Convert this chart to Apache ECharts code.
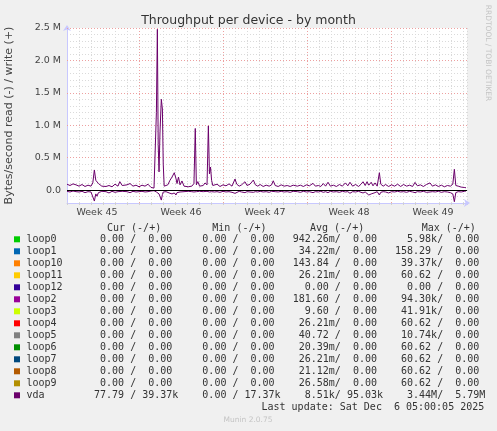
<!DOCTYPE html>
<html><head><meta charset="utf-8">
<script src="https://cdn.jsdelivr.net/npm/echarts@6/dist/echarts.min.js"></script>
<style>html,body{margin:0;padding:0;background:#f0f0f0}#c{width:497px;height:431px}</style>
</head><body><div id="c"></div>
<script>
// time in days from the left edge of the plot
const days = [
0.00,0.25,0.50,0.62,0.75,1.00,1.25,1.50,1.75,2.00,
2.15,2.28,2.40,2.50,2.62,2.75,2.90,3.00,3.25,3.50,
3.75,4.00,4.25,4.40,4.60,4.75,5.00,5.25,5.50,5.75,
6.00,6.25,6.50,6.75,7.00,7.12,7.25,7.38,7.45,7.53,
7.60,7.67,7.75,7.86,7.95,8.02,8.10,8.25,8.40,8.58,
8.75,8.94,9.08,9.17,9.29,9.42,9.58,9.75,9.90,10.10,
10.25,10.40,10.58,10.69,10.78,10.90,11.05,11.20,11.35,11.50,
11.67,11.78,11.87,11.96,12.05,12.15,12.30,12.50,12.75,13.00,
13.25,13.50,13.75,14.00,14.15,14.35,14.55,14.70,14.83,15.00,
15.25,15.40,15.53,15.70,15.90,16.10,16.35,16.60,16.85,17.05,
17.19,17.35,17.60,17.85,18.10,18.35,18.60,18.85,19.00,19.20,
19.45,19.70,19.95,20.20,20.50,20.70,20.95,21.15,21.36,21.55,
21.75,21.95,22.20,22.45,22.70,22.95,23.20,23.40,23.58,23.80,
24.05,24.30,24.50,24.67,24.85,25.00,25.15,25.35,25.50,25.67,
25.85,26.03,26.15,26.35,26.55,26.80,27.05,27.30,27.55,27.80,
28.05,28.30,28.55,28.80,29.00,29.20,29.45,29.70,29.95,30.25,
30.45,30.70,30.95,31.20,31.45,31.70,31.95,32.15,32.28,32.40,
32.60,32.85,33.10,33.25
];
// vda write (+), in k bytes/s
const writeK = [
90,70,95,125,80,60,85,55,75,60,
110,310,150,180,100,125,60,80,55,70,
50,90,60,130,70,55,80,100,60,75,
50,75,60,90,40,35,30,60,1200,2480,
700,280,900,1400,1250,400,60,50,80,150,
200,267,180,100,200,80,140,60,90,50,
75,60,100,950,80,130,60,90,70,110,
80,990,250,355,150,70,60,90,55,80,
65,95,60,170,90,60,80,55,128,70,
90,60,154,80,60,85,55,75,60,80,
143,70,55,80,60,70,55,75,103,60,
75,55,80,65,103,60,70,55,100,60,
120,60,75,55,85,60,110,65,120,60,
85,55,90,128,70,128,75,120,65,110,
60,267,90,60,85,55,80,60,90,55,
85,60,75,55,118,65,80,55,85,110,
60,80,55,75,50,70,60,90,320,70,
60,45,40,35
];
// vda read (-), in k bytes/s (drawn below zero)
const readK = [
20,30,15,35,25,30,20,40,25,30,
60,170,60,95,40,35,20,30,25,45,
20,35,25,40,20,30,25,40,20,30,
25,20,30,25,15,10,10,20,30,50,
40,60,90,155,70,30,20,25,35,50,
60,45,77,40,55,30,40,25,30,20,
35,25,30,40,25,35,20,30,25,35,
20,45,30,40,25,20,30,25,35,20,
30,25,35,51,30,20,30,25,40,25,
30,20,35,25,30,20,30,25,35,20,
40,25,30,20,30,25,35,20,30,25,
35,20,30,25,40,25,30,20,35,25,
40,20,30,25,35,20,30,25,50,25,
30,20,35,45,30,51,77,60,30,40,
25,77,35,25,30,45,25,30,20,30,
25,35,20,30,40,25,30,20,35,30,
25,30,20,35,25,30,40,60,180,40,
25,30,20,15
];
const weekLabels = ['Week 45','Week 46','Week 47','Week 48','Week 49'];
const weekCenters = [2.5, 9.5, 16.5, 23.5, 30.5];
const weekBounds = [6, 13, 20, 27];
const yMajorTicks = [0, 500, 1000, 1500, 2000, 2500];

const legendNames = ['loop0','loop1','loop10','loop11','loop12','loop2','loop3','loop4','loop5','loop6','loop7','loop8','loop9','vda'];
const legendCur = ['  0.00 /  0.00 ','  0.00 /  0.00 ','  0.00 /  0.00 ','  0.00 /  0.00 ','  0.00 /  0.00 ','  0.00 /  0.00 ','  0.00 /  0.00 ','  0.00 /  0.00 ','  0.00 /  0.00 ','  0.00 /  0.00 ','  0.00 /  0.00 ','  0.00 /  0.00 ','  0.00 /  0.00 ',' 77.79 / 39.37k'];
const legendMin = ['  0.00 /  0.00 ','  0.00 /  0.00 ','  0.00 /  0.00 ','  0.00 /  0.00 ','  0.00 /  0.00 ','  0.00 /  0.00 ','  0.00 /  0.00 ','  0.00 /  0.00 ','  0.00 /  0.00 ','  0.00 /  0.00 ','  0.00 /  0.00 ','  0.00 /  0.00 ','  0.00 /  0.00 ','  0.00 / 17.37k'];
const legendAvg = ['942.26m/  0.00 ',' 34.22m/  0.00 ','143.84 /  0.00 ',' 26.21m/  0.00 ','  0.00 /  0.00 ','181.60 /  0.00 ','  9.60 /  0.00 ',' 26.21m/  0.00 ',' 40.72 /  0.00 ',' 20.39m/  0.00 ',' 26.21m/  0.00 ',' 21.12m/  0.00 ',' 26.58m/  0.00 ','  8.51k/ 95.03k'];
const legendMax = ['  5.98k/  0.00 ','158.29 /  0.00 ',' 39.37k/  0.00 ',' 60.62 /  0.00 ','  0.00 /  0.00 ',' 94.30k/  0.00 ',' 41.91k/  0.00 ',' 60.62 /  0.00 ',' 10.74k/  0.00 ',' 60.62 /  0.00 ',' 60.62 /  0.00 ',' 60.62 /  0.00 ',' 60.62 /  0.00 ','  3.44M/  5.79M'];
const legendHeaders = ['Cur (-/+)','Min (-/+)','Avg (-/+)','Max (-/+)'];
const lastUpdate = 'Last update: Sat Dec  6 05:00:05 2025';

// styles
const palette = ['#00CC00','#0066B3','#FF8000','#FFCC00','#330099','#990099','#CCFF00','#FF0000','#808080','#008F00','#00487D','#B35A00','#B38F00','#6B006B'];
const MONO = '10px "DejaVu Sans Mono"';
const TXT = '#333';

const chart = echarts.init(document.getElementById('c'), null, {renderer:'canvas'});

const graphics = [];
const rowY0 = 239.3, rowH = 12;
const headerX = [107, 212.3, 310, 421.7];
legendHeaders.forEach((h,i)=>graphics.push({type:'text', x:headerX[i], y:228.3, style:{text:h, font:MONO, fill:TXT, textVerticalAlign:'middle'}}));
const colX = [88, 190.3, 292.7, 395];
legendNames.forEach((n,i)=>{
  const y = rowY0 + i*rowH;
  graphics.push({type:'rect', shape:{x:14, y:y-3, width:6, height:6}, style:{fill:palette[i]}});
  graphics.push({type:'text', x:26.5, y:y, style:{text:n, font:MONO, fill:TXT, textVerticalAlign:'middle'}});
  [legendCur[i], legendMin[i], legendAvg[i], legendMax[i]].forEach((s,j)=>{
    graphics.push({type:'text', x:colX[j], y:y, style:{text:s, font:MONO, fill:TXT, textVerticalAlign:'middle'}});
  });
});
graphics.push({type:'text', x:261.5, y:407.3, style:{text:lastUpdate, font:MONO, fill:TXT, textVerticalAlign:'middle'}});
graphics.push({type:'text', x:248, y:420.5, style:{text:'Munin 2.0.75', font:'7.5px "DejaVu Sans"', fill:'#c4c4c4', textAlign:'center', textVerticalAlign:'middle'}});
graphics.push({type:'text', x:487.5, y:53, rotation:-Math.PI/2, style:{text:'RRDTOOL / TOBI OETIKER', font:'7.5px "DejaVu Sans"', fill:'#c4c4c4', textAlign:'center', textVerticalAlign:'middle'}});

const axisCol = '#c8c8ff';
const option = {
  backgroundColor:'#f0f0f0',
  animation:false,
  title:{text:'Throughput per device - by month', left:'center', top:9,
    textStyle:{fontSize:12.5, fontWeight:'normal', color:TXT, fontFamily:'DejaVu Sans'}},
  grid:{left:67, right:30, top:28, bottom:228, show:true, backgroundColor:'#ffffff', borderWidth:0, containLabel:false, outerBoundsMode:'none'},
  xAxis:{type:'value', min:0, max:400/12, interval:1,
    axisLine:{onZero:false, show:true, lineStyle:{color:axisCol, width:1}, symbol:['none','arrow'], symbolSize:[6,6], symbolOffset:[0,3]},
    axisTick:{show:true, length:2, lineStyle:{color:'#d0d0d0'}},
    splitLine:{show:true, lineStyle:{color:'#dadada', type:[1,2], width:1}},
    axisLabel:{customValues:weekCenters, formatter:(v)=>weekLabels[weekCenters.indexOf(v)]||'', fontSize:9.5, color:'#444', fontFamily:'DejaVu Sans', margin:5}
  },
  yAxis:{type:'value', min:-200, max:2500, interval:100,
    name:'Bytes/second read (-) / write (+)', nameLocation:'middle', nameGap:52,
    nameTextStyle:{fontSize:11, color:'#444', fontFamily:'DejaVu Sans'},
    axisLine:{show:true, lineStyle:{color:axisCol, width:1}, symbol:['none','arrow'], symbolSize:[6,6], symbolOffset:[0,3]},
    axisTick:{show:false},
    splitLine:{show:true, lineStyle:{color:'#dadada', type:[1,2], width:1}},
    axisLabel:{customValues:yMajorTicks, formatter:(v)=> v===0 ? '0.0' : (v/1000).toFixed(1)+' M', fontSize:9.5, color:'#444', fontFamily:'DejaVu Sans', margin:6}
  },
  series:[
    {type:'line', data:[], silent:true, z:1,
      markLine:{z:1, silent:true, symbol:'none', label:{show:false},
        lineStyle:{color:'#eda0a0', type:[1,2], width:1},
        data: yMajorTicks.filter(v=>v>0).map(v=>({yAxis:v})).concat(weekBounds.map(v=>({xAxis:v})))}},
    {name:'vda write', type:'line', data:days.map((d,i)=>[d, writeK[i]]), showSymbol:false, symbol:'none',
      lineStyle:{color:'#6B006B', width:1}, itemStyle:{color:'#6B006B'}, z:3},
    {name:'vda read', type:'line', data:days.map((d,i)=>[d, -readK[i]]), showSymbol:false, symbol:'none',
      lineStyle:{color:'#6B006B', width:1}, itemStyle:{color:'#6B006B'}, z:3,
      markLine:{silent:true, symbol:'none', label:{show:false}, lineStyle:{color:'#000', type:'solid', width:1}, data:[{yAxis:0}]}}
  ],
  graphic: graphics
};
chart.setOption(option);
</script>
</body></html>
